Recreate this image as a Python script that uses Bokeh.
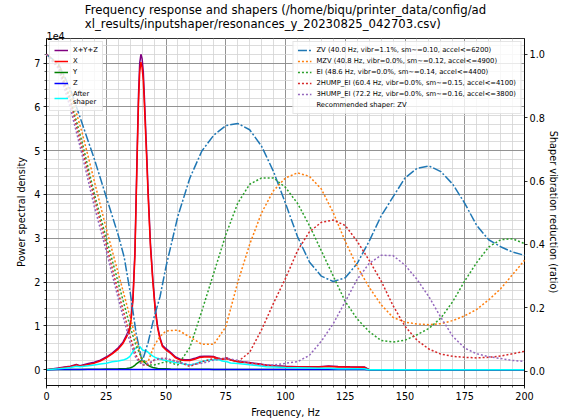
from bokeh.plotting import figure
from bokeh.models import (Range1d, LinearAxis, FixedTicker, Legend, LegendItem, Title,
                          PrintfTickFormatter)
from bokeh.embed import file_html
from bokeh.resources import INLINE

# ---------------- data (PSD values in units of 1e4) ----------------
psd_freq = [0, 5, 7.5, 10, 12.5, 14, 17.5, 20, 22.5, 25,
            27.5, 30, 32, 33.5, 34.8, 35.5, 36.2, 37, 37.5, 38,
            38.5, 39, 39.5, 40, 40.5, 41, 42, 42.5, 43.5, 44.5,
            45.5, 46.5, 47.5, 48.5, 50, 52, 54, 56, 58, 60,
            62, 64, 66, 68, 70, 72, 73.5, 75.5, 77, 80,
            84, 88, 92, 96, 100, 105, 110, 114, 118, 122,
            127, 133, 135, 140, 150, 175, 200]
psd_x = [0.0, 0.03, 0.05, 0.07, 0.11, 0.08, 0.12, 0.15, 0.2, 0.27,
         0.36, 0.47, 0.6, 0.75, 0.9, 1.2, 1.6, 2.6, 3.8, 5.0,
         6.1, 6.8, 7.02, 6.9, 6.6, 6.0, 4.7, 4.0, 2.8, 2.0,
         1.35, 0.95, 0.7, 0.53, 0.45, 0.37, 0.27, 0.22, 0.21, 0.21,
         0.24, 0.28, 0.29, 0.29, 0.29, 0.25, 0.23, 0.26, 0.22, 0.18,
         0.16, 0.13, 0.1, 0.08, 0.07, 0.06, 0.06, 0.06, 0.075, 0.065,
         0.06, 0.055, 0.0, 0.0, 0.0, 0.0, 0.0]
psd_y = [0.0, 0.005, 0.005, 0.006, 0.008, 0.008, 0.01, 0.01, 0.012, 0.014,
         0.016, 0.02, 0.025, 0.03, 0.04, 0.05, 0.07, 0.1, 0.13, 0.15,
         0.17, 0.19, 0.2, 0.2, 0.19, 0.17, 0.12, 0.1, 0.07, 0.05,
         0.04, 0.03, 0.025, 0.02, 0.02, 0.015, 0.012, 0.01, 0.01, 0.01,
         0.01, 0.01, 0.01, 0.01, 0.008, 0.008, 0.008, 0.008, 0.007, 0.006,
         0.006, 0.005, 0.005, 0.005, 0.005, 0.004, 0.004, 0.004, 0.004, 0.003,
         0.003, 0.003, 0.0, 0.0, 0.0, 0.0, 0.0]
psd_z = [0.0, 0.004, 0.004, 0.004, 0.005, 0.005, 0.005, 0.005, 0.005, 0.005,
         0.005, 0.005, 0.005, 0.005, 0.005, 0.005, 0.005, 0.006, 0.006, 0.006,
         0.006, 0.006, 0.006, 0.006, 0.006, 0.006, 0.006, 0.006, 0.005, 0.005,
         0.005, 0.005, 0.005, 0.005, 0.005, 0.005, 0.005, 0.005, 0.005, 0.005,
         0.005, 0.005, 0.005, 0.005, 0.005, 0.005, 0.005, 0.005, 0.005, 0.004,
         0.004, 0.004, 0.004, 0.004, 0.004, 0.004, 0.004, 0.004, 0.004, 0.004,
         0.004, 0.004, 0.0, 0.0, 0.0, 0.0, 0.0]
psd_sum = [0.0, 0.04, 0.06, 0.08, 0.12, 0.09, 0.14, 0.17, 0.22, 0.29,
           0.38, 0.5, 0.63, 0.79, 0.95, 1.26, 1.68, 2.71, 3.94, 5.16,
           6.28, 7.0, 7.2, 7.1, 6.8, 6.18, 4.83, 4.11, 2.88, 2.06,
           1.4, 0.99, 0.73, 0.56, 0.48, 0.39, 0.29, 0.24, 0.23, 0.23,
           0.26, 0.3, 0.31, 0.31, 0.3, 0.26, 0.24, 0.27, 0.23, 0.19,
           0.17, 0.14, 0.11, 0.09, 0.08, 0.07, 0.07, 0.07, 0.085, 0.075,
           0.07, 0.065, 0.0, 0.0, 0.0, 0.0, 0.0]
psd_after = [0.0, 0.02, 0.035, 0.05, 0.08, 0.07, 0.09, 0.11, 0.13, 0.15,
             0.18, 0.2, 0.22, 0.25, 0.3, 0.35, 0.42, 0.48, 0.5, 0.52,
             0.53, 0.53, 0.5, 0.46, 0.44, 0.44, 0.42, 0.4, 0.35, 0.31,
             0.28, 0.26, 0.245, 0.23, 0.21, 0.19, 0.165, 0.145, 0.125, 0.11,
             0.13, 0.17, 0.2, 0.22, 0.23, 0.23, 0.2, 0.18, 0.155, 0.14,
             0.12, 0.095, 0.07, 0.06, 0.05, 0.045, 0.04, 0.035, 0.035, 0.025,
             0.02, 0.02, 0.0, 0.0, 0.0, 0.0, 0.0]

# ---------------- shaper responses (ratio) ----------------
shaper_freq = [0, 5, 10, 15, 20, 25, 30, 32.5, 35, 37.5,
               40, 42.5, 45, 47.5, 50, 55, 60, 65, 70, 75,
               80, 85, 90, 95, 100, 105, 110, 115, 120, 125,
               130, 135, 140, 145, 150, 155, 160, 165, 170, 175,
               180, 185, 190, 195, 200]
zv = [1.0, 0.97, 0.89, 0.78, 0.67, 0.55, 0.43, 0.36, 0.25, 0.12,
      0.03, 0.09, 0.17, 0.235, 0.33, 0.49, 0.61, 0.695, 0.745, 0.775,
      0.782, 0.762, 0.71, 0.63, 0.53, 0.425, 0.345, 0.3, 0.283, 0.295,
      0.34, 0.41, 0.49, 0.55, 0.61, 0.64, 0.648, 0.63, 0.59, 0.53,
      0.46, 0.415, 0.393, 0.376, 0.366]
mzv = [1.0, 0.97, 0.88, 0.75, 0.6, 0.45, 0.31, 0.24, 0.17, 0.1,
       0.03, 0.03, 0.08, 0.11, 0.127, 0.13, 0.108, 0.085, 0.085, 0.14,
       0.28, 0.4, 0.5, 0.57, 0.61, 0.626, 0.615, 0.575, 0.5, 0.41,
       0.33, 0.265, 0.21, 0.17, 0.155, 0.149, 0.147, 0.15, 0.16, 0.175,
       0.195, 0.225, 0.26, 0.305, 0.35]
ei = [1.0, 0.965, 0.86, 0.72, 0.56, 0.42, 0.28, 0.21, 0.14, 0.08,
      0.04, 0.02, 0.02, 0.025, 0.03, 0.02, 0.075, 0.19, 0.31, 0.43,
      0.53, 0.59, 0.61, 0.61, 0.58, 0.53, 0.46, 0.38, 0.3, 0.22,
      0.165, 0.125, 0.097, 0.092, 0.098, 0.115, 0.135, 0.168, 0.22, 0.285,
      0.343, 0.392, 0.415, 0.418, 0.403]
hump2 = [1.0, 0.96, 0.85, 0.7, 0.545, 0.4, 0.25, 0.18, 0.11, 0.05,
         0.02, 0.02, 0.035, 0.04, 0.04, 0.03, 0.015, 0.03, 0.04, 0.04,
         0.03, 0.06, 0.131, 0.215, 0.293, 0.38, 0.44, 0.47, 0.477, 0.46,
         0.41, 0.35, 0.285, 0.207, 0.142, 0.098, 0.07, 0.054, 0.047, 0.044,
         0.042, 0.044, 0.048, 0.055, 0.063]
hump3 = [1.0, 0.955, 0.83, 0.68, 0.52, 0.38, 0.23, 0.16, 0.09, 0.04,
         0.02, 0.025, 0.035, 0.04, 0.04, 0.03, 0.02, 0.025, 0.035, 0.04,
         0.035, 0.025, 0.02, 0.02, 0.025, 0.03, 0.05, 0.095, 0.15, 0.22,
         0.29, 0.34, 0.366, 0.365, 0.335, 0.29, 0.235, 0.17, 0.11, 0.073,
         0.055, 0.046, 0.04, 0.034, 0.031]

shaper_labels = [
    "ZV (40.0 Hz, vibr=1.1%, sm~=0.10, accel<=6200)",
    "MZV (40.8 Hz, vibr=0.0%, sm~=0.12, accel<=4900)",
    "EI (48.6 Hz, vibr=0.0%, sm~=0.14, accel<=4400)",
    "2HUMP_EI (60.4 Hz, vibr=0.0%, sm~=0.15, accel<=4100)",
    "3HUMP_EI (72.2 Hz, vibr=0.0%, sm~=0.16, accel<=3800)",
]
recommended = "Recommended shaper: ZV"
psd_labels = ["X+Y+Z", "X", "Y", "Z", "After\nshaper"]
title_text = ("Frequency response and shapers (/home/biqu/printer_data/config/ad\n"
              "xl_results/inputshaper/resonances_y_20230825_042703.csv)")
offset_text = "1e4"

x_ticks = [0, 25, 50, 75, 100, 125, 150, 175, 200]
x_minor = list(range(0, 201, 5))
y_ticks = [0, 1, 2, 3, 4, 5, 6, 7]
y_minor = [i / 5 for i in range(-1, 38)]
r_ticks = [0.0, 0.2, 0.4, 0.6, 0.8, 1.0]

FONT = "DejaVu Sans"
SCALE = 1e4
Y_TOP = 7.56 * SCALE

p = figure(width=561, height=420, output_backend="svg", toolbar_location=None, title=None,
           x_range=Range1d(0, 200), y_range=Range1d(-0.36 * SCALE, Y_TOP),
           min_border_left=46, min_border_right=20, min_border_top=37, min_border_bottom=34)
p.extra_y_ranges = {"r": Range1d(-0.045, 1.05)}

# "1e4" offset text next to the frame, the two-line title above it
p.add_layout(Title(text=offset_text, align="left", text_font=FONT, text_font_size="9.7px",
                   text_font_style="normal", text_color="black", standoff=-2), "above")
p.add_layout(Title(text=title_text, align="center", text_font=FONT, text_font_size="11.7px",
                   text_font_style="normal", text_color="black", standoff=0), "above")

p.outline_line_color = "black"
p.outline_line_width = 0.8
p.outline_line_alpha = 1.0

# axes
xa = p.xaxis[0]
xa.ticker = FixedTicker(ticks=x_ticks, minor_ticks=x_minor)
ya = p.yaxis[0]
ya.ticker = FixedTicker(ticks=[t * SCALE for t in y_ticks], minor_ticks=[t * SCALE for t in y_minor])
ya.major_label_overrides = {t * SCALE: str(t) for t in y_ticks}
xa.axis_label = "Frequency, Hz"
ya.axis_label = "Power spectral density"

ra = LinearAxis(y_range_name="r", ticker=FixedTicker(ticks=r_ticks),
                formatter=PrintfTickFormatter(format="%.1f"),
                axis_label="Shaper vibration reduction (ratio)")
p.add_layout(ra, "right")

for ax in (xa, ya, ra):
    ax.axis_line_color = "black"
    ax.axis_line_width = 0.8
    ax.major_tick_line_color = "black"
    ax.major_tick_line_width = 0.8
    ax.major_tick_out = 3
    ax.major_tick_in = 0
    ax.minor_tick_line_color = "black"
    ax.minor_tick_line_width = 0.6
    ax.minor_tick_out = 2
    ax.minor_tick_in = 0
    ax.major_label_text_font = FONT
    ax.major_label_text_font_size = "9.7px"
    ax.major_label_text_color = "black"
    ax.major_label_standoff = 3
    ax.axis_label_text_font = FONT
    ax.axis_label_text_font_size = "9.7px"
    ax.axis_label_text_font_style = "normal"
    ax.axis_label_text_color = "black"
    ax.axis_label_standoff = 4
ra.minor_tick_line_color = None
ra.major_label_standoff = 2
ra.axis_label_standoff = 0

# grids
p.xgrid.ticker = xa.ticker
p.ygrid.ticker = ya.ticker
for g in (p.xgrid[0], p.ygrid[0]):
    g.grid_line_color = "#808080"
    g.grid_line_width = 0.8
    g.grid_line_alpha = 1.0
    g.minor_grid_line_color = "#d3d3d3"
    g.minor_grid_line_width = 0.8

# PSD lines
psd_series = [psd_sum, psd_x, psd_y, psd_z, psd_after]
psd_colors = ["#800080", "#ff0000", "#008000", "#0000ff", "#00ffff"]
left_items = []
for vals, col, lab in zip(psd_series, psd_colors, psd_labels):
    r = p.line(psd_freq, [v * SCALE for v in vals], line_color=col, line_width=1.5)
    left_items.append(LegendItem(label=lab, renderers=[r]))

# shaper lines (drawn above the left legend like matplotlib twin axes)
shaper_series = [zv, mzv, ei, hump2, hump3]
shaper_colors = ["#1f77b4", "#ff7f0e", "#2ca02c", "#d62728", "#9467bd"]
shaper_dash = ["9 2 2 2", "2 2", "2 2", "2 2", "2 2"]
right_items = []
for vals, col, dash, lab in zip(shaper_series, shaper_colors, shaper_dash, shaper_labels):
    r = p.line(shaper_freq, vals, y_range_name="r", line_color=col, line_width=1.5,
               line_dash=dash, level="overlay")
    right_items.append(LegendItem(label=lab, renderers=[r]))
dummy = p.line([0], [0], y_range_name="r", line_alpha=0)
right_items.append(LegendItem(label=recommended, renderers=[dummy]))


def style_legend(lg):
    lg.label_text_font = FONT
    lg.label_text_font_size = "6.8px"
    lg.label_text_color = "black"
    lg.label_height = 8
    lg.glyph_height = 8
    lg.glyph_width = 14
    lg.label_standoff = 5
    lg.spacing = 3
    lg.padding = 4
    lg.margin = 3
    lg.border_line_color = "#cccccc"
    lg.border_line_width = 0.8
    lg.background_fill_alpha = 0.8


left_legend = Legend(items=left_items, location="top_left")
style_legend(left_legend)
p.add_layout(left_legend)
right_legend = Legend(items=right_items, location="top_right")
style_legend(right_legend)
right_legend.level = "overlay"
p.add_layout(right_legend)

open("out.html", "w").write(file_html(p, INLINE))
